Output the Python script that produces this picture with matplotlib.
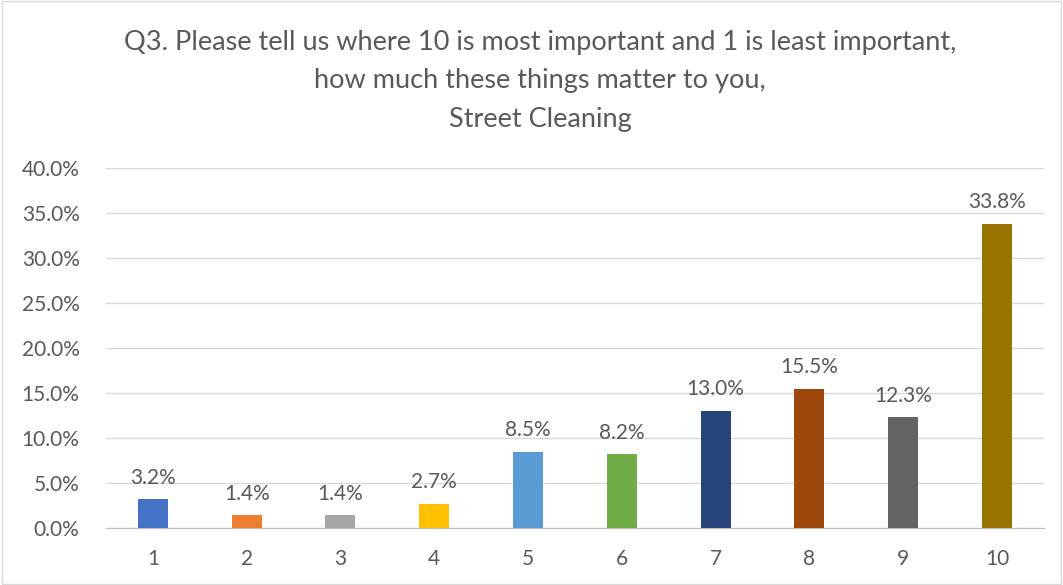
import matplotlib
matplotlib.use("Agg")
import matplotlib.pyplot as plt
from matplotlib.ticker import FuncFormatter
from matplotlib.patches import Rectangle

plt.rcParams['font.family'] = ['Lato', 'DejaVu Sans']

# data
categories = ['1', '2', '3', '4', '5', '6', '7', '8', '9', '10']
values = [3.2, 1.4, 1.4, 2.7, 8.5, 8.2, 13.0, 15.5, 12.3, 33.8]
colors = ['#4472C4', '#ED7D31', '#A5A5A5', '#FFC000', '#5B9BD5',
          '#70AD47', '#264478', '#9E480E', '#636363', '#997300']
title = ("Q3. Please tell us where 10 is most important and 1 is least important,\n"
         "how much these things matter to you,\n"
         "Street Cleaning")

text_col = '#595959'

fig = plt.figure(figsize=(10.63, 5.85), dpi=100)
ax = fig.add_axes([0.0997, 0.0974, 0.8823, 0.6154])

x = range(len(categories))
bars = ax.bar(x, values, width=0.32, color=colors, zorder=3)

for b, v in zip(bars, values):
    ax.text(b.get_x() + b.get_width() / 2, v + 1.3, f"{v:.1f}%",
            ha='center', va='bottom', fontsize=15, color=text_col)

ax.set_xlim(-0.5, len(categories) - 0.5)
ax.set_ylim(0, 40)
ax.set_yticks(range(0, 41, 5))
ax.yaxis.set_major_formatter(FuncFormatter(lambda v, p: f"{v:.1f}%"))
ax.set_xticks(list(x))
ax.set_xticklabels(categories)
ax.tick_params(axis='both', length=0, labelsize=15, labelcolor=text_col)
ax.tick_params(axis='y', pad=19)
ax.tick_params(axis='x', pad=15)

ax.grid(axis='y', color='#D9D9D9', linewidth=1, zorder=0)
for s in ['top', 'right', 'left']:
    ax.spines[s].set_visible(False)
ax.spines['bottom'].set_color('#BFBFBF')

fig.text(0.508, 0.949, title, ha='center', va='top', fontsize=19.5,
         color=text_col, linespacing=1.67)

# chart border
fig.patches.append(Rectangle((0.002, 0.002), 0.996, 0.996, transform=fig.transFigure,
                             fill=False, edgecolor='#D9D9D9', linewidth=1))

fig.savefig('out.png', dpi=100)
